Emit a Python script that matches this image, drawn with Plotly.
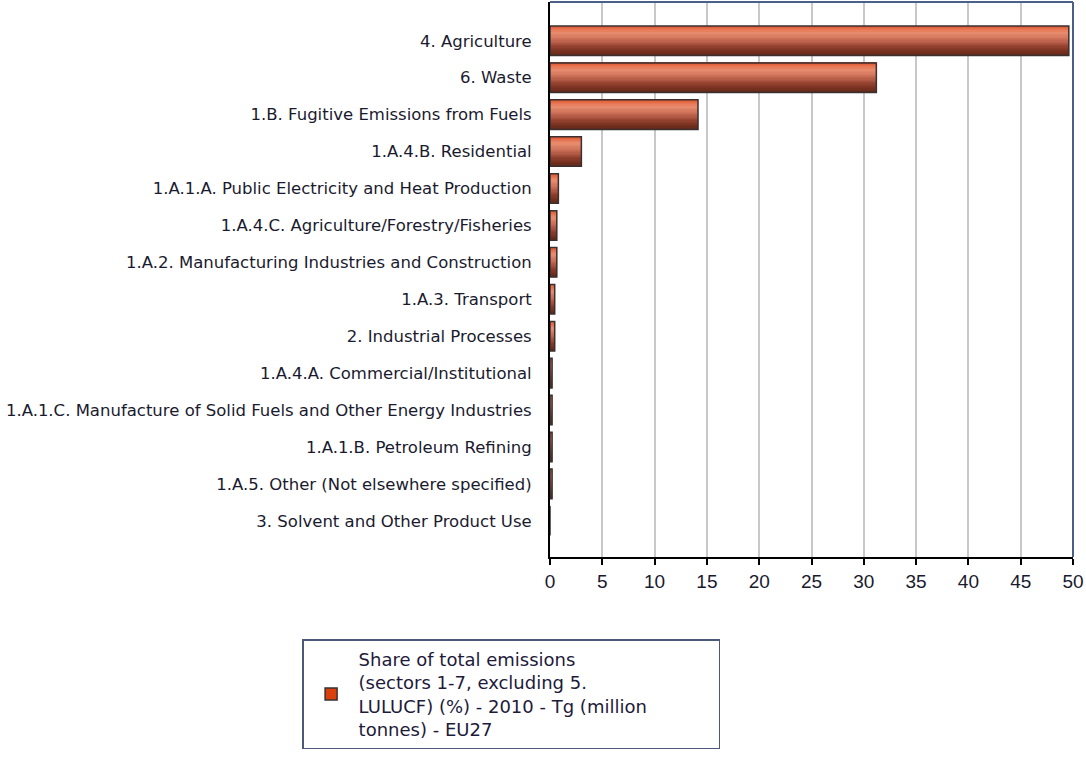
import plotly.graph_objects as go

categories = [
    "4. Agriculture",
    "6. Waste",
    "1.B. Fugitive Emissions from Fuels",
    "1.A.4.B. Residential",
    "1.A.1.A. Public Electricity and Heat Production",
    "1.A.4.C. Agriculture/Forestry/Fisheries",
    "1.A.2. Manufacturing Industries and Construction",
    "1.A.3. Transport",
    "2. Industrial Processes",
    "1.A.4.A. Commercial/Institutional",
    "1.A.1.C. Manufacture of Solid Fuels and Other Energy Industries",
    "1.A.1.B. Petroleum Refining",
    "1.A.5. Other (Not elsewhere specified)",
    "3. Solvent and Other Product Use",
]
values = [49.6, 31.2, 14.15, 3.0, 0.8, 0.65, 0.65, 0.45, 0.45, 0.2, 0.2, 0.2, 0.2, 0.0]
x_ticks = [0, 5, 10, 15, 20, 25, 30, 35, 40, 45, 50]
series_name = ("Share of total emissions<br>(sectors 1-7, excluding 5.<br>"
               "LULUCF) (%) - 2010 - Tg (million<br>tonnes) - EU27")

# gradient key colours for the bar fill (top -> bottom), purely stylistic
key_colors = [(0.0, (226, 85, 47)), (0.25, (234, 142, 112)), (0.5, (196, 104, 82)),
              (0.75, (140, 60, 42)), (1.0, (98, 38, 22))]


def grad(t):
    for (t0, c0), (t1, c1) in zip(key_colors[:-1], key_colors[1:]):
        if t0 <= t <= t1:
            f = (t - t0) / (t1 - t0)
            r, g, b = [round(a + (bb - a) * f) for a, bb in zip(c0, c1)]
            return f"rgb({r},{g},{b})"
    return "rgb(98,38,22)"


bar_w = 0.8
n = 24
sw = bar_w / n

fig = go.Figure()
for i in range(n):
    w = sw * 1.6 if i < n - 1 else sw
    fig.add_trace(go.Bar(
        x=values, y=categories, orientation="h",
        width=w, offset=-bar_w / 2 + i * sw,
        marker=dict(color=grad((i + 0.5) / n), line=dict(width=0)),
        showlegend=False, hoverinfo="skip",
    ))
# outline
fig.add_trace(go.Bar(
    x=values, y=categories, orientation="h",
    width=bar_w, offset=-bar_w / 2,
    marker=dict(color="rgba(0,0,0,0)", line=dict(color="#3a3030", width=1.5)),
    showlegend=False, name=series_name,
))
# legend entry
fig.add_trace(go.Bar(
    x=[None], y=[None], orientation="h", name=series_name,
    marker=dict(color="#d9400c", line=dict(color="#3a3030", width=1.5)),
    showlegend=True,
))

fig.update_layout(
    width=1086, height=765,
    margin=dict(l=550, r=13, t=2, b=208),
    plot_bgcolor="white", paper_bgcolor="white",
    barmode="overlay",
    font=dict(family="DejaVu Sans, sans-serif", color="#1a1a2e"),
    showlegend=True,
    legend=dict(
        x=-0.474, y=-0.148, xanchor="left", yanchor="top",
        orientation="h", entrywidth=355, itemwidth=45,
        bordercolor="#4a5a78", borderwidth=1.5, bgcolor="white",
        font=dict(size=18, family="DejaVu Sans, sans-serif", color="#1e1a3a"),
    ),
    xaxis=dict(
        range=[0, 50], tickvals=x_ticks, ticks="outside", ticklen=6,
        tickcolor="black", tickwidth=2,
        showgrid=True, gridcolor="#c8c8c8", gridwidth=2,
        showline=True, linecolor="black", linewidth=2,
        zeroline=False,
        tickfont=dict(size=19, family="Liberation Sans, sans-serif", color="#1a1a2e"),
    ),
    yaxis=dict(
        type="category", categoryorder="array", categoryarray=categories,
        range=[13.98, -1.05], showgrid=False, ticks="",
        showline=True, linecolor="black", linewidth=2,
        ticklabelstandoff=13,
        tickfont=dict(size=16.5, family="DejaVu Sans, sans-serif", color="#1a1a2e"),
    ),
    shapes=[
        dict(type="line", xref="paper", yref="paper", x0=0, x1=1, y0=1, y1=1,
             line=dict(color="#4a6088", width=2)),
        dict(type="line", xref="paper", yref="paper", x0=1, x1=1, y0=0, y1=1,
             line=dict(color="#4a6088", width=2)),
    ],
)

fig.write_html("out.html", config={"displayModeBar": False},
               post_script="document.body.style.margin='0';")
